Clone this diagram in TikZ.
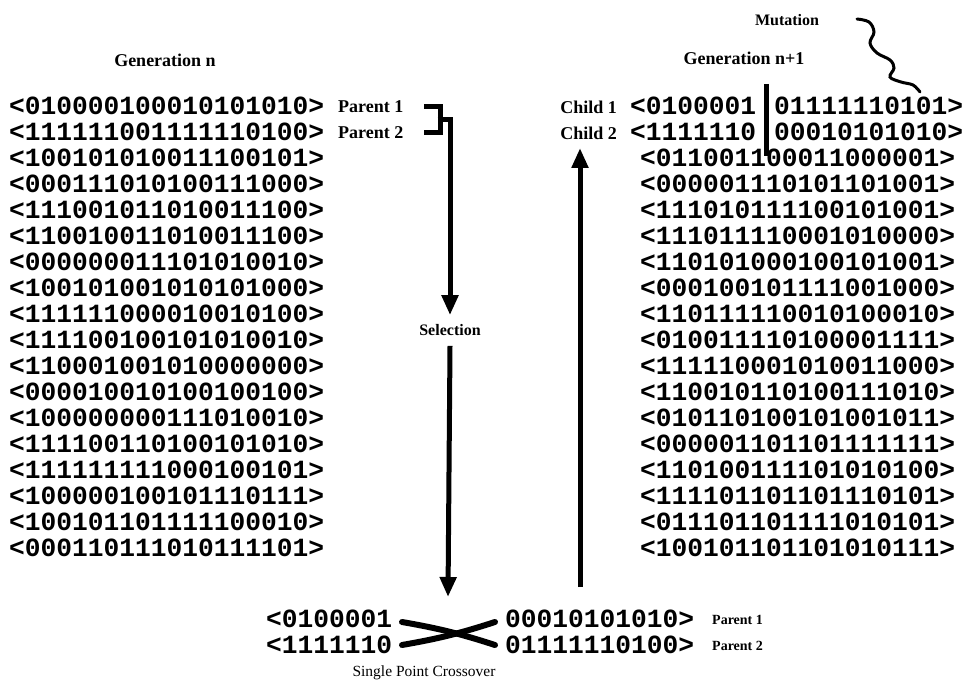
\documentclass[tikz,border=0pt]{standalone}
\usepackage{fontspec}
\setmainfont{Liberation Serif}
\newfontfamily\codefont{Liberation Mono}
\usetikzlibrary{arrows.meta}

\begin{document}
\begin{tikzpicture}[x=1pt,y=-1pt,
  chrom/.style={font=\codefont\bfseries\fontsize{26.25}{26}\selectfont, inner sep=0pt,
    text height=15pt, text depth=0pt, anchor=west},
  lbl/.style={font=\bfseries\fontsize{18}{18}\selectfont, inner sep=0pt},
  smalllbl/.style={font=\bfseries\fontsize{14}{14}\selectfont, inner sep=0pt, anchor=west},
  capt/.style={font=\fontsize{15.5}{16}\selectfont, inner sep=0pt},
  heavy/.style={line width=5pt},
  flow/.style={heavy, -{Triangle[width=16pt,length=20pt]}},
  crossstroke/.style={line width=6pt, line cap=round},
]
\useasboundingbox (0,0) rectangle (969,687);

% headings
\node[lbl] (gen) at (165,60) {Generation n};
\node[lbl] (gen1) at (744,58) {Generation n+1};
\node[lbl, font=\bfseries\fontsize{16}{16}\selectfont] (mut) at (787,20) {Mutation};

% population of generation n
\foreach \s [count=\i] in {010000100010101010,111111001111110100,100101010011100101,
  000111010100111000,111001011010011100,110010011010011100,000000011101010010,
  100101001010101000,111111000010010100,111100100101010010,110001001010000000,
  000010010100100100,100000000111010010,111100110100101010,111111111000100101,
  100000100101110111,100101101111100010,000110111010111101}
  \node[chrom] (L\i) at (9,{107+26*(\i-1)}) {<\s>};

\node[lbl, anchor=west] (par1) at (338,107) {Parent 1};
\node[lbl, anchor=west] (par2) at (338,133) {Parent 2};

% population of generation n+1
\node[lbl, anchor=east] (ch1) at (617,107) {Child 1};
\node[lbl, anchor=east] (ch2) at (617,133) {Child 2};
\node[chrom] (R1a) at (630,107) {<0100001};
\node[chrom] (R1b) at (774,107) {01111110101>};
\node[chrom] (R2a) at (630,133) {<1111110};
\node[chrom] (R2b) at (774,133) {00010101010>};
\foreach \s [count=\i from 3] in {011001100011000001,000001110101101001,111010111100101001,
  111011110001010000,110101000100101001,000100101111001000,110111110010100010,
  010011110100001111,111110001010011000,110010110100111010,010110100101001011,
  000001101101111111,110100111101010100,111101101101110101,011101101111010101,
  100101101101010111}
  \node[chrom] (R\i) at (640,{107+26*(\i-1)}) {<\s>};

% crossover point
\draw[heavy] (766,84) coordinate (cutTop) -- (766,156) coordinate (cutBot);

% mutation mark
\coordinate (mutS) at (857,19);
\coordinate (mutE) at (920,92);
\draw[line width=3pt, line cap=round] plot[smooth, tension=0.6] coordinates
  {(mutS) (869,22) (874,32) (870,43) (877,53) (890,60) (894,68) (890,77) (901,82) (913,85) (mutE)};

% selection bracket and arrow
\coordinate (b1) at (424,107);
\coordinate (b2) at (424,133);
\coordinate (bj) at (440,120);
\draw[heavy] (b1) -- (440,107) -- (440,133) -- (b2);
\node[lbl, font=\bfseries\fontsize{16}{16}\selectfont] (sel) at (450,330) {Selection};
\draw[flow] ([xshift=-2.5pt]bj) -| ([yshift=9pt]sel.north);
\coordinate (xo) at (448,633);
\draw[flow] ([yshift=-10pt]sel.south) -- ([yshift=36pt]xo);

% single point crossover
\node[chrom] (xl1) at (266,620) {<0100001};
\node[chrom] (xl2) at (266,646) {<1111110};
\node[chrom] (xr1) at (505,620) {00010101010>};
\node[chrom] (xr2) at (505,646) {01111110100>};
\node[smalllbl] (xp1) at (712,620) {Parent 1};
\node[smalllbl] (xp2) at (712,646) {Parent 2};
\coordinate (xa) at (402,622);
\coordinate (xb) at (495,645);
\coordinate (xc) at (402,645);
\coordinate (xd) at (495,622);
\draw[crossstroke] (xa) to[bend left=4] (xb);
\draw[crossstroke] (xc) to[bend right=4] (xd);
\node[capt] (cap) at (424,673) {Single Point Crossover};

% offspring go back up into the new generation
\coordinate (upFoot) at (580,587);
\coordinate (upTip) at (580,148);
\draw[flow] (upFoot) -- (upTip);
\end{tikzpicture}
\end{document}
